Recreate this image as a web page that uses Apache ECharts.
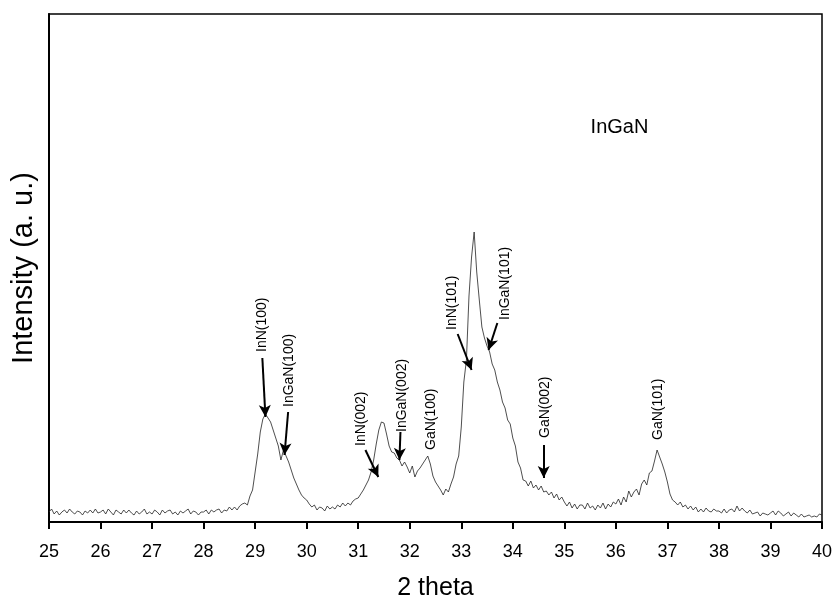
<!DOCTYPE html>
<html>
<head>
<meta charset="utf-8">
<script src="https://cdn.jsdelivr.net/npm/echarts@6/dist/echarts.min.js"></script>
<style>
  html, body { margin: 0; padding: 0; background: #fff; }
  #main { width: 835px; height: 599px; }
</style>
</head>
<body>
<div id="main"></div>
<script>
// XRD scan, sampled every 0.05 deg from 25 to 40 (one row per degree)
var thetaStart = 25;
var thetaStep = 0.05;
var intensity = [
  10,13,8,11,7,10,12,9,13,10,8,11,10,7,11,9,12,9,13,9,        // 25
  10,12,8,13,10,7,12,10,8,12,9,12,9,7,11,8,10,13,8,10,        // 26
  8,12,10,7,12,9,11,12,8,10,7,11,9,11,13,8,11,10,7,10,        // 27
  10,12,8,12,10,12,13,9,12,11,15,12,15,12,16,18,19,17,26,32,  // 28
  50,68,90,103,108,104,100,92,84,76,62,72,66,60,52,44,38,32,27,24, // 29
  22,18,15,17,12,15,14,11,16,13,15,13,17,15,19,16,19,17,21,23, // 30
  24,28,32,37,42,50,62,78,92,100,99,88,76,70,69,64,62,56,60,55, // 31
  49,56,45,51,54,58,62,66,58,46,40,36,32,27,33,30,38,45,58,66, // 32
  95,140,162,226,265,290,250,222,195,184,176,170,158,152,140,132,120,114,102,98, // 33
  84,76,60,54,42,41,36,41,34,37,32,36,30,31,27,30,24,28,22,25, // 34
  20,16,20,14,18,13,17,17,13,19,14,16,12,17,14,19,13,18,15,20, // 35
  18,23,17,25,20,31,25,30,33,27,38,42,37,49,51,61,72,65,58,50, // 36
  40,28,22,20,17,20,15,17,13,16,12,15,10,13,10,14,11,10,13,11, // 37
  11,9,13,9,12,13,10,16,11,14,11,9,12,8,9,10,6,9,8,7,         // 38
  9,11,7,11,9,6,8,10,6,9,7,5,8,5,6,7,5,6,5,8,                 // 39
  7                                                           // 40
];
var xTicks = [25,26,27,28,29,30,31,32,33,34,35,36,37,38,39,40];

// peak labels: text, [theta, intensity] of the text's lower end
var peakNames = ['InN(100)','InGaN(100)','InN(002)','InGaN(002)','GaN(100)','InN(101)','InGaN(101)','GaN(002)','GaN(101)'];
var peakTextAt = [[29.14,170],[29.66,115],[31.06,76],[31.86,90],[32.42,72],[32.83,192],[33.86,202],[34.62,84],[36.83,82]];
// arrows: from -> to, in data units
var arrowFrom = [[29.14,164],[29.64,110],[31.14,72],[31.82,90],[32.93,188],[33.70,199],[34.60,77]];
var arrowTo   = [[29.20,105],[29.57,67],[31.39,45],[31.80,62],[33.20,152],[33.53,172],[34.60,44]];

var seriesData = intensity.map(function (v, i) {
  return [+(thetaStart + i * thetaStep).toFixed(2), v];
});

var chart = echarts.init(document.getElementById('main'));
var font = '"Liberation Sans", Arial, sans-serif';

var option = {
  animation: false,
  grid: {
    left: 49, right: 13, top: 14, bottom: 77,
    containLabel: false,
    outerBoundsMode: 'none',
    show: true, borderColor: '#000', borderWidth: 1.5
  },
  xAxis: {
    type: 'value',
    min: 25, max: 40, interval: 1,
    name: '2 theta',
    nameLocation: 'middle',
    nameGap: 54,
    nameTextStyle: { fontFamily: font, fontSize: 25, color: '#000' },
    axisLine: { lineStyle: { color: '#000', width: 2 } },
    axisTick: { inside: false, length: 7, lineStyle: { color: '#000', width: 2 } },
    axisLabel: { fontFamily: font, fontSize: 18, color: '#000', margin: 21,
      formatter: function (v) { return xTicks.indexOf(v) >= 0 ? String(v) : ''; } },
    splitLine: { show: false }
  },
  yAxis: {
    type: 'value',
    min: 0, max: 508,
    name: 'Intensity (a. u.)',
    nameLocation: 'middle',
    nameGap: 11,
    nameRotate: 90,
    nameTextStyle: { fontFamily: font, fontSize: 29, color: '#000' },
    axisLine: { show: true, lineStyle: { color: '#000', width: 2 } },
    axisTick: { show: false },
    axisLabel: { show: false },
    splitLine: { show: false }
  },
  series: [{
    type: 'line',
    data: seriesData,
    showSymbol: false,
    lineStyle: { color: '#222', width: 0.8 },
    silent: true,
    markLine: {
      silent: true,
      symbol: ['none', 'arrow'],
      symbolSize: [9, 12],
      label: { show: false },
      lineStyle: { color: '#000', width: 2, type: 'solid' },
      data: arrowFrom.map(function (p, i) {
        return [{ coord: p }, { coord: arrowTo[i] }];
      })
    }
  }]
};
chart.setOption(option);

// rotated peak labels placed from data coordinates
var graphics = peakNames.map(function (name, i) {
  var px = chart.convertToPixel({ gridIndex: 0 }, peakTextAt[i]);
  return {
    type: 'text',
    x: px[0], y: px[1],
    rotation: Math.PI / 2,
    style: {
      text: name, fill: '#000', font: '14px ' + font,
      textAlign: 'left', textVerticalAlign: 'middle'
    }
  };
});
var tagPx = chart.convertToPixel({ gridIndex: 0 }, [36.07, 395]);
graphics.push({
  type: 'text', x: tagPx[0], y: tagPx[1],
  style: { text: 'InGaN', fill: '#000', font: '20px ' + font, textAlign: 'center', textVerticalAlign: 'middle' }
});
chart.setOption({ graphic: graphics });
</script>
</body>
</html>
